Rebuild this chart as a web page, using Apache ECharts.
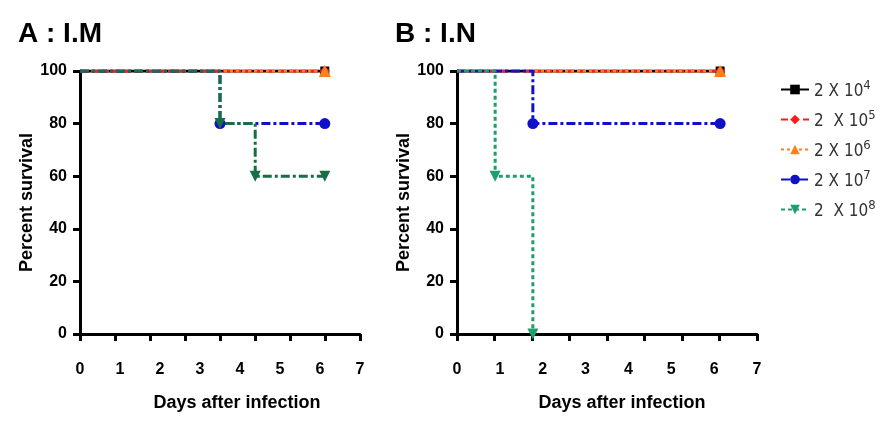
<!DOCTYPE html>
<html><head><meta charset="utf-8">
<script src="https://cdn.jsdelivr.net/npm/echarts@6/dist/echarts.min.js"></script>
<style>html,body{margin:0;padding:0;background:#fff}#c{width:883px;height:421px}</style>
</head><body><div id="c"></div>
<script>
// ---- text ----
const seriesNames = ['2 X 10^4', '2  X 10^5', '2 X 10^6', '2 X 10^7', '2  X 10^8'];
const panelTitles = ['A : I.M', 'B : I.N'];
const xTitle = 'Days after infection';
const yTitle = 'Percent survival';
const yTicks = [0, 20, 40, 60, 80, 100];
const xLabelMax = 7;   // labelled axis 0..7
const xTickMax = 8;    // drawn tick marks 0..8 (as in the reference)

// ---- Panel A : I.M  (days on labelled axis, % survival) ----
const aDays4 = [0, 6.12], aSurv4 = [100, 100];
const aDays5 = [0, 6.12], aSurv5 = [100, 100];
const aDays6 = [0, 6.12], aSurv6 = [100, 100];
const aDays7 = [0, 3.5, 6.12], aSurv7 = [100, 80, 80];
const aDays8 = [0, 3.5, 4.38, 6.12], aSurv8 = [100, 80, 60, 60];

// ---- Panel B : I.N ----
const bDays4 = [0, 6.14], bSurv4 = [100, 100];
const bDays5 = [0, 6.14], bSurv5 = [100, 100];
const bDays6 = [0, 6.14], bSurv6 = [100, 100];
const bDays7 = [0, 1.77, 6.14], bSurv7 = [100, 80, 80];
const bDays8 = [0, 0.89, 1.77], bSurv8 = [100, 60, 0];

const FONT = "'Liberation Sans', Arial, sans-serif";
const NARROW = "'Liberation Sans Narrow', 'DejaVu Sans Condensed', 'Liberation Sans', Arial";
const styles = [
  {color: '#000000', type: 'solid', symbol: 'rect', size: 9, rot: 0},
  {color: '#ff1a1a', type: [7, 4], symbol: 'diamond', size: 10, rot: 0},
  {color: '#ff7f1e', type: [3, 3], symbol: 'triangle', size: 12, rot: 0},
  {color: '#1010c8', type: [9, 3, 3, 3], symbol: 'circle', size: 11, rot: 0},
  {color: '#1f9e6b', type: [4, 3], symbol: 'triangle', size: 11, rot: 180}
];
const greenA = '#176e45';

function pts(days, surv) {
  return days.map((d, i) => i === 0 ? {value: [d, surv[i]], symbol: 'none'} : {value: [d, surv[i]]});
}
function mk(idx, grid, days, surv, colorOverride, dashOverride) {
  const s = styles[idx];
  const c = colorOverride || s.color;
  return {
    name: seriesNames[idx], type: 'line', step: 'end',
    xAxisIndex: grid * 2 + 1, yAxisIndex: grid,
    data: pts(days, surv),
    symbol: s.symbol, symbolSize: s.size, symbolRotate: s.rot,
    showAllSymbol: true, animation: false,
    lineStyle: {color: c, width: 3, type: dashOverride || s.type},
    itemStyle: {color: c}
  };
}

const series = [
  // panel B first so legend picks its styles
  mk(0, 1, bDays4, bSurv4), mk(1, 1, bDays5, bSurv5), mk(2, 1, bDays6, bSurv6),
  mk(3, 1, bDays7, bSurv7), mk(4, 1, bDays8, bSurv8),
  mk(0, 0, aDays4, aSurv4), mk(1, 0, aDays5, aSurv5), mk(2, 0, aDays6, aSurv6),
  mk(3, 0, aDays7, aSurv7), mk(4, 0, aDays8, aSurv8, greenA, [9, 3, 3, 3])
];

const grids = [
  {left: 80, top: 71, width: 280, height: 263},
  {left: 457, top: 71, width: 300, height: 263}
];
const nameShift = [34, 30];

const xAxis = [], yAxis = [];
grids.forEach((g, i) => {
  xAxis.push({
    gridIndex: i, type: 'value', min: 0, max: xTickMax, interval: 1, position: 'bottom',
    axisLine: {show: true, lineStyle: {color: '#000', width: 3}},
    axisTick: {show: true, length: 7, lineStyle: {color: '#000', width: 3}},
    axisLabel: {show: false}, splitLine: {show: false}
  });
  xAxis.push({
    gridIndex: i, type: 'value', min: 0, max: xLabelMax, interval: 1, position: 'bottom',
    axisLine: {show: false}, axisTick: {show: false}, splitLine: {show: false},
    axisLabel: {show: true, margin: 28, color: '#000', fontSize: 16, fontWeight: 'bold', fontFamily: FONT},
    name: xTitle, nameLocation: 'middle', nameGap: 60,
    nameTextStyle: {color: '#000', fontSize: 18, fontWeight: 'bold', fontFamily: FONT, padding: [0, 0, 0, nameShift[i]]}
  });
  yAxis.push({
    gridIndex: i, type: 'value', min: yTicks[0], max: yTicks[yTicks.length - 1], interval: yTicks[1] - yTicks[0],
    axisLine: {show: true, lineStyle: {color: '#000', width: 3}},
    axisTick: {show: true, length: 7, lineStyle: {color: '#000', width: 3}},
    splitLine: {show: false},
    axisLabel: {margin: 13, color: '#000', fontSize: 16, fontWeight: 'bold', fontFamily: FONT},
    name: yTitle, nameLocation: 'middle', nameGap: 44,
    nameTextStyle: {color: '#000', fontSize: 18, fontWeight: 'bold', fontFamily: FONT}
  });
});

const chart = echarts.init(document.getElementById('c'));
chart.setOption({
  backgroundColor: '#fff',
  animation: false,
  title: [
    {text: panelTitles[0], left: 18, top: 20, padding: 0, textStyle: {fontSize: 28, fontWeight: 'bold', color: '#000', fontFamily: FONT}},
    {text: panelTitles[1], left: 395, top: 20, padding: 0, textStyle: {fontSize: 28, fontWeight: 'bold', color: '#000', fontFamily: FONT}}
  ],
  grid: grids,
  xAxis: xAxis,
  yAxis: yAxis,
  legend: {
    orient: 'vertical', left: 775, top: 74, itemWidth: 28, itemHeight: 12, itemGap: 9,
    data: seriesNames,
    formatter: n => { const p = n.split('^'); return '{b|' + p[0] + '}{s|' + p[1] + '}'; },
    textStyle: {
      rich: {
        b: {fontSize: 17, fontFamily: NARROW, color: '#333', verticalAlign: 'bottom'},
        s: {fontSize: 13, fontFamily: NARROW, color: '#333', verticalAlign: 'bottom', padding: [0, 0, 8, 0]}
      }
    }
  },
  series: series
});
</script></body></html>
